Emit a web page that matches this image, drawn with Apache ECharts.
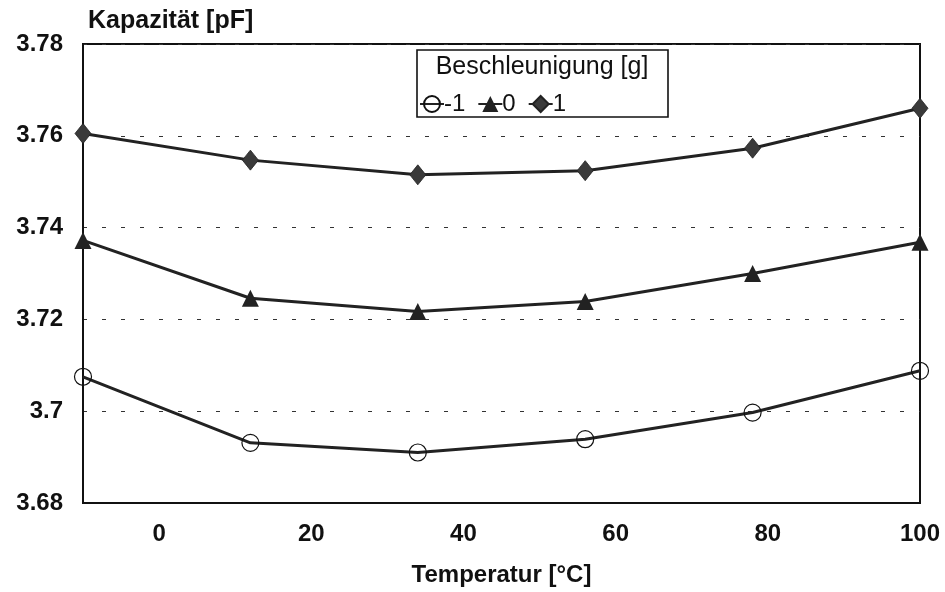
<!DOCTYPE html>
<html>
<head>
<meta charset="utf-8">
<script src="https://cdn.jsdelivr.net/npm/echarts@6/dist/echarts.min.js"></script>
<style>
  html, body { margin: 0; padding: 0; background: #fff; }
  #chart { width: 945px; height: 592px; }
</style>
</head>
<body>
<div id="chart"></div>
<script>
// Temperature sweep (°C) and measured capacitance (pF) per acceleration level
const temperatures = [-10, 12, 34, 56, 78, 100];
const capMinus1 = [3.7075, 3.6931, 3.6910, 3.6939, 3.6997, 3.7088];
const capZero   = [3.7372, 3.7246, 3.7217, 3.7239, 3.7300, 3.7368];
const capPlus1  = [3.7605, 3.7547, 3.7515, 3.7524, 3.7573, 3.7660];
const seriesNames = ['-1', '0', '1'];
const xTickValues = [0, 20, 40, 60, 80, 100];

const FONT = '"Liberation Sans", Arial, Helvetica, sans-serif';
const pairs = arr => temperatures.map((t, i) => [t, arr[i]]);

const chart = echarts.init(document.getElementById('chart'), null, { renderer: 'canvas' });

chart.setOption({
  animation: false,
  backgroundColor: '#fff',
  title: {
    text: 'Kapazität [pF]',
    left: 83, top: 4,
    textStyle: { fontFamily: FONT, fontSize: 25, fontWeight: 'bold', color: '#111' }
  },
  grid: {
    left: 83, right: 25, top: 44, bottom: 89,
    show: true, borderColor: '#111', borderWidth: 2, backgroundColor: 'transparent'
  },
  xAxis: {
    type: 'value',
    min: -10, max: 100,
    name: 'Temperatur [°C]',
    nameLocation: 'middle',
    nameGap: 60,
    nameTextStyle: { fontFamily: FONT, fontSize: 24, fontWeight: 'bold', color: '#111' },
    axisLine: { show: true, onZero: false, lineStyle: { color: '#111', width: 2 } },
    axisTick: { show: false },
    splitLine: { show: false },
    axisLabel: {
      customValues: xTickValues,
      margin: 19,
      fontFamily: FONT, fontSize: 24, fontWeight: 'bold', color: '#111'
    }
  },
  yAxis: {
    type: 'value',
    min: 3.68, max: 3.78, interval: 0.02,
    axisLine: { show: true, onZero: false, lineStyle: { color: '#111', width: 2 } },
    axisTick: { show: false },
    axisLabel: {
      margin: 20,
      fontFamily: FONT, fontSize: 24, fontWeight: 'bold', color: '#111',
      formatter: v => String(parseFloat(v.toFixed(2)))
    },
    splitLine: {
      show: true,
      lineStyle: { color: '#333', width: 1.2, type: [4, 15] }
    }
  },
  legend: {
    data: seriesNames,
    left: 419, top: 92,
    orient: 'horizontal',
    padding: 0,
    itemGap: 12,
    itemWidth: 24,
    itemHeight: 20,
    z: 10,
    textStyle: { fontFamily: FONT, fontSize: 24, color: '#111', padding: [0, 0, 0, -5] }
  },
  graphic: [
    {
      type: 'rect', z: 5,
      shape: { x: 417, y: 50, width: 251, height: 67 },
      style: { fill: '#fff', stroke: '#111', lineWidth: 1.6 }
    },
    {
      type: 'text', z: 6,
      x: 542, y: 55,
      style: {
        text: 'Beschleunigung [g]',
        fontFamily: FONT, fontSize: 25, fill: '#111',
        textAlign: 'center', textVerticalAlign: 'top'
      }
    }
  ],
  series: [
    {
      name: seriesNames[0], type: 'line', data: pairs(capMinus1),
      symbol: 'circle', symbolSize: 17,
      lineStyle: { color: '#222', width: 3 },
      itemStyle: { color: 'rgba(255,255,255,0)', borderColor: '#111', borderWidth: 1.2 }
    },
    {
      name: seriesNames[1], type: 'line', data: pairs(capZero),
      symbol: 'triangle', symbolSize: 17,
      lineStyle: { color: '#222', width: 3 },
      itemStyle: { color: '#222', borderColor: '#222', borderWidth: 0 }
    },
    {
      name: seriesNames[2], type: 'line', data: pairs(capPlus1),
      symbol: 'diamond', symbolSize: [16, 20],
      lineStyle: { color: '#222', width: 3 },
      itemStyle: { color: '#3a3a3a', borderColor: '#222', borderWidth: 0.8 }
    }
  ]
});
</script>
</body>
</html>
